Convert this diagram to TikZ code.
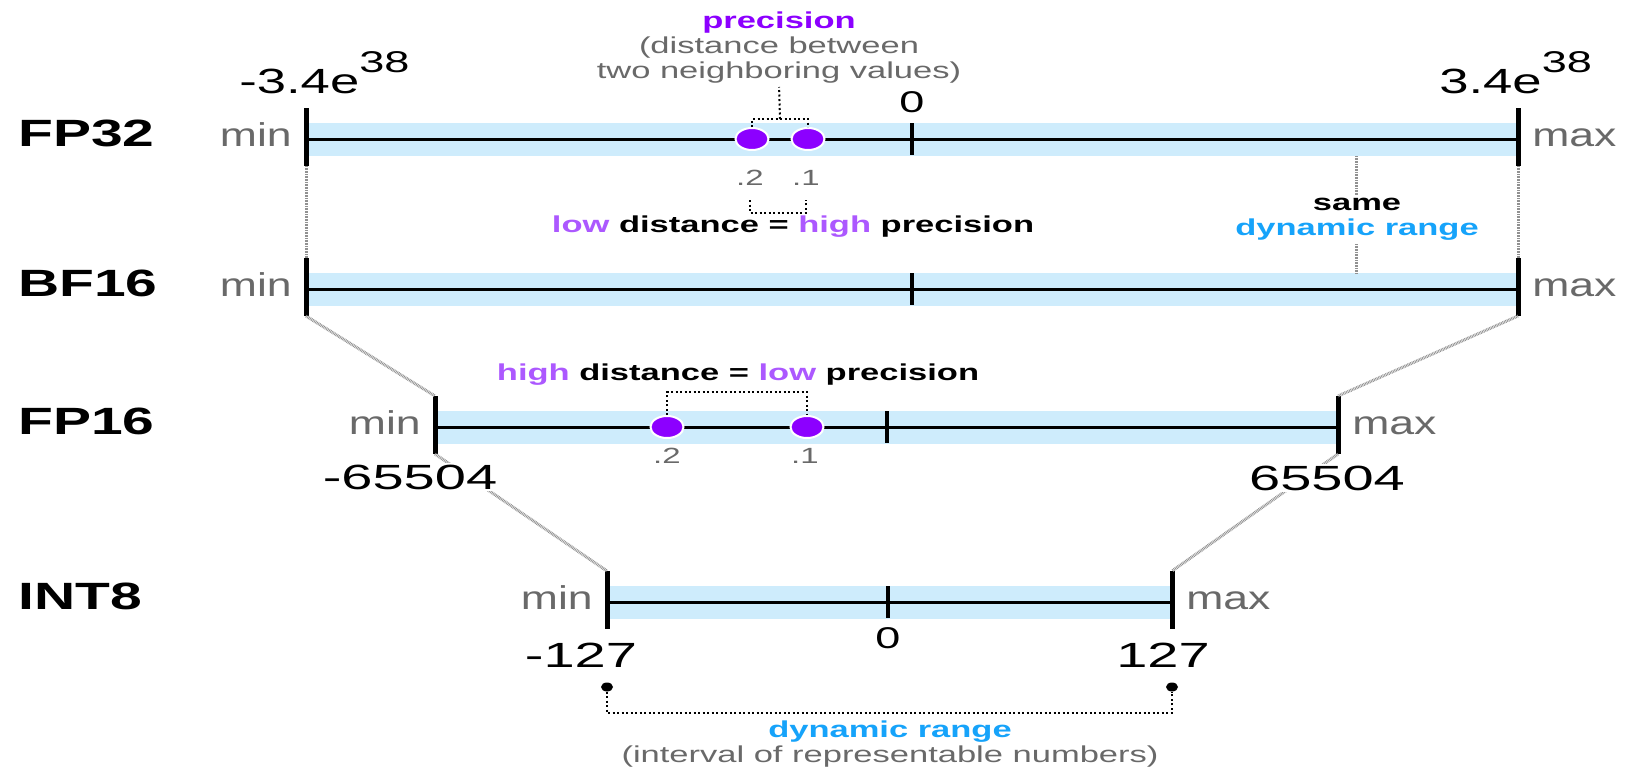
\documentclass[tikz,border=0pt]{standalone}
\usepackage{fontspec}
\setmainfont{Liberation Sans}
\usetikzlibrary{shapes.geometric, positioning}

\definecolor{bandblue}{RGB}{206,236,252}
\definecolor{rangeblue}{RGB}{22,163,250}
\definecolor{dotpurple}{RGB}{140,0,255}
\definecolor{wordpurple}{RGB}{172,88,255}
\definecolor{notegray}{RGB}{105,105,105}
\definecolor{linkgray}{RGB}{145,145,145}

\newcommand{\expo}[1]{\raisebox{21pt}{\fontsize{30}{30}\selectfont #1}}

\begin{document}
\begin{tikzpicture}[
    x=1pt, y=-1pt,
    band/.style={fill=bandblue},
    axis/.style={line width=3pt},
    endtick/.style={line width=5pt},
    zerotick/.style={line width=4pt},
    rowlabel/.style={font=\fontsize{38}{40}\selectfont\bfseries, xscale=1.5, inner sep=0, anchor=base west},
    minmax/.style={font=\fontsize{33}{36}\selectfont, text=notegray, xscale=1.35, inner sep=0},
    bignum/.style={font=\fontsize{35}{38}\selectfont, xscale=1.6, inner sep=2pt, fill=white, anchor=base},
    zeronum/.style={font=\fontsize{30}{32}\selectfont, xscale=1.5, inner sep=0, anchor=base},
    tenths/.style={font=\fontsize{22}{24}\selectfont, text=notegray, xscale=1.5, inner sep=0, anchor=base},
    note/.style={font=\fontsize{23}{25}\selectfont\bfseries, xscale=1.5, inner sep=0, anchor=base, align=center},
    pdot/.style={ellipse, fill=dotpurple, draw=white, line width=2pt, minimum width=33pt, minimum height=22pt, inner sep=0},
    bdot/.style={ellipse, fill=black, minimum width=12pt, minimum height=9pt, inner sep=0},
    bracket/.style={line width=2pt, dash pattern=on 2pt off 2.5pt},
    link/.style={draw=linkgray, line width=3pt, dash pattern=on 0.8pt off 0.8pt}
]
    \useasboundingbox (0,0) rectangle (1625,771);
    \fill[white] (0,0) rectangle (1625,771);

    % Number lines
    \foreach \nm/\lbl/\yy/\xa/\xz/\xb in {fp32/FP32/139/306/912/1518, bf16/BF16/289/306/912/1518, fp16/FP16/427/435/887/1338, int8/INT8/602/607/888/1172}{
        \fill[band] (\xa,\yy-16.5) rectangle (\xb,\yy+16.5);
        \coordinate (\nm-min) at (\xa,\yy);
        \coordinate (\nm-max) at (\xb,\yy);
        \coordinate (\nm-mintop) at (\xa,\yy-31);
        \coordinate (\nm-minbot) at (\xa,\yy+27);
        \coordinate (\nm-maxtop) at (\xb,\yy-31);
        \coordinate (\nm-maxbot) at (\xb,\yy+27);
        \coordinate (\nm-zerotop) at (\xz,\yy-16);
        \coordinate (\nm-zerobot) at (\xz,\yy+16);
        \draw[axis] (\nm-min) -- (\nm-max);
        \draw[endtick] (\nm-mintop) -- (\nm-minbot);
        \draw[endtick] (\nm-maxtop) -- (\nm-maxbot);
        \draw[zerotick] (\nm-zerotop) -- (\nm-zerobot);
        \node[rowlabel] (\nm-name) at (18,\yy+7) {\lbl};
        \node[minmax, anchor=base east] (\nm-minlbl) at (\xa-14,\yy+7) {min};
        \node[minmax, anchor=base west] (\nm-maxlbl) at (\xb+14,\yy+7) {max};
    }

    % Links between ranges
    \coordinate (same-top) at (1356,156);
    \coordinate (same-bot) at (1356,273);
    \draw[link] (fp32-minbot) -- (bf16-mintop);
    \draw[link] (fp32-maxbot) -- (bf16-maxtop);
    \draw[link] (bf16-minbot) -- (fp16-mintop);
    \draw[link] (bf16-maxbot) -- (fp16-maxtop);
    \draw[link] (fp16-minbot) -- (int8-mintop);
    \draw[link] (fp16-maxbot) -- (int8-maxtop);
    \draw[link] (same-top) -- (same-bot);
    \node[note, anchor=center, fill=white, inner sep=3pt] (same) at (1357,219) {same\\\textcolor{rangeblue}{dynamic range}};

    % Range values
    \node[bignum, anchor=base west, xscale=0.94] (fp32-lo) at (236,93) {-3.4e\expo{38}};
    \node[bignum, anchor=base west, xscale=0.94] (fp32-hi) at (1436,93) {3.4e\expo{38}};
    \node[zeronum] (fp32-zero) at (912,112) {0};
    \node[bignum] (fp16-lo) at (410,489) {-65504};
    \node[bignum] (fp16-hi) at (1327,490) {65504};
    \node[bignum] (int8-lo) at (581,667) {-127};
    \node[bignum] (int8-hi) at (1163,667) {127};
    \node[zeronum] (int8-zero) at (888,648) {0};

    % FP32 precision
    \node[pdot] (fp32-a) at (752,139) {};
    \node[pdot] (fp32-b) at (808,139) {};
    \node[tenths] (fp32-a-val) at (750,185) {.2};
    \node[tenths] (fp32-b-val) at (806,185) {.1};
    \node[note, anchor=south] (prec) at (779,83) {\textcolor{dotpurple}{precision}\\{\mdseries\color{notegray}(distance between}\\{\mdseries\color{notegray}two neighboring values)}};
    \coordinate (fp32-up) at (780,119);
    \coordinate (fp32-down) at (780,213);
    \draw[bracket] (fp32-a.north) |- (fp32-up) -| (fp32-b.north);
    \draw[bracket, shorten >=4pt] (fp32-up) -- (prec.south);
    \draw[bracket, shorten <=15pt, shorten >=15pt] (fp32-a-val.south) |- (fp32-down) -| (fp32-b-val.south);
    \node[note] (fp32-rule) at (793,232) {\textcolor{wordpurple}{low} distance = \textcolor{wordpurple}{high} precision};

    % FP16 precision
    \node[pdot] (fp16-a) at (667,427) {};
    \node[pdot] (fp16-b) at (807,427) {};
    \node[tenths] (fp16-a-val) at (667,463) {.2};
    \node[tenths] (fp16-b-val) at (805,463) {.1};
    \coordinate (fp16-up) at (737,392);
    \draw[bracket] (fp16-a.north) |- (fp16-up) -| (fp16-b.north);
    \node[note] (fp16-rule) at (738,380) {\textcolor{wordpurple}{high} distance = \textcolor{wordpurple}{low} precision};

    % INT8 dynamic range
    \node[bdot] (rng-lo) at (607,687) {};
    \node[bdot] (rng-hi) at (1172,687) {};
    \coordinate (rng-mid) at (890,713);
    \draw[bracket] (rng-lo) |- (rng-mid) -| (rng-hi);
    \node[note, anchor=north] (rng-note) at (890,721) {\textcolor{rangeblue}{dynamic range}\\{\mdseries\color{notegray}(interval of representable numbers)}};

\end{tikzpicture}
\end{document}
